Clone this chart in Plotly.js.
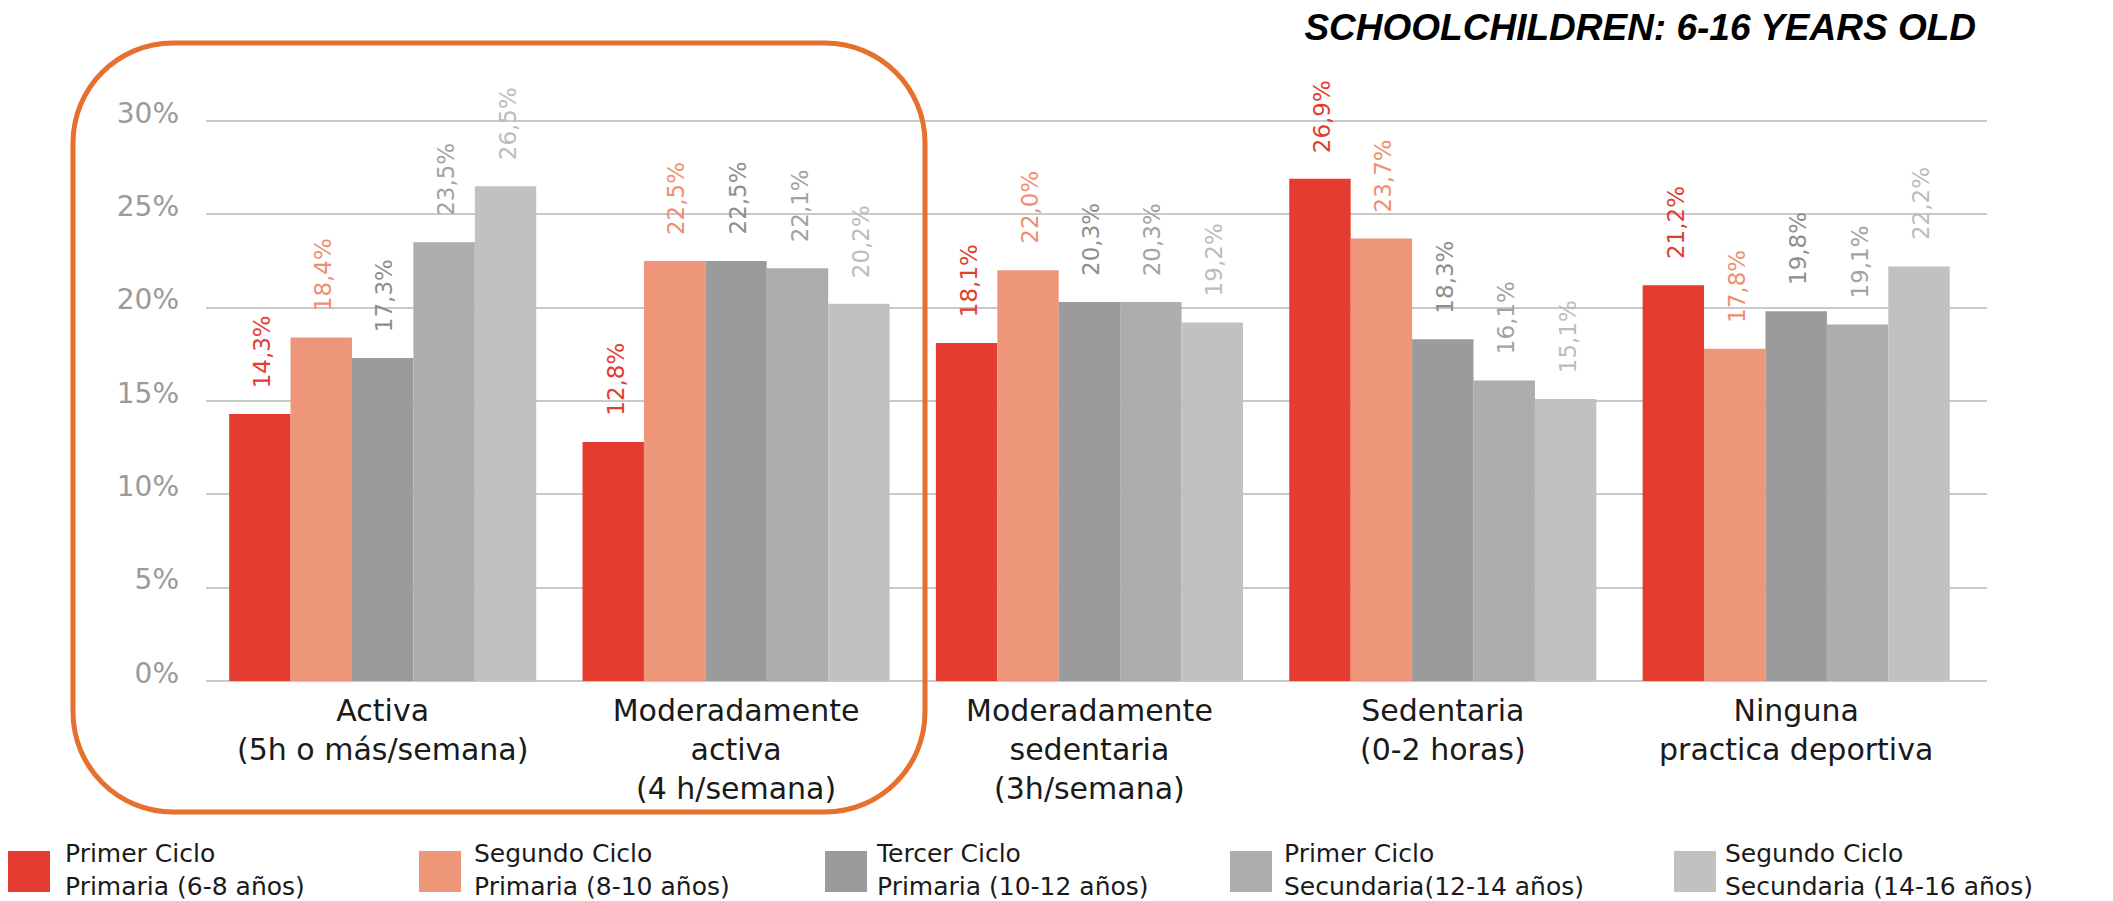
<!DOCTYPE html>
<html>
<head>
<meta charset="utf-8">
<script src="https://cdn.plot.ly/plotly-3.0.1.min.js"></script>
<style>
  html, body { margin: 0; padding: 0; background: #ffffff; }
  #chart { width: 2113px; height: 901px; }
</style>
</head>
<body>
<div id="chart"></div>
<script>
// ---------------- DATA ----------------
const categories = [
  "Activa<br>(5h o más/semana)",
  "Moderadamente<br>activa<br>(4 h/semana)",
  "Moderadamente<br>sedentaria<br>(3h/semana)",
  "Sedentaria<br>(0-2 horas)",
  "Ninguna<br>practica deportiva"
];
const seriesNames = [
  "Primer Ciclo<br>Primaria (6-8 años)",
  "Segundo Ciclo<br>Primaria (8-10 años)",
  "Tercer Ciclo<br>Primaria (10-12 años)",
  "Primer Ciclo<br>Secundaria(12-14 años)",
  "Segundo Ciclo<br>Secundaria (14-16 años)"
];
const primerCicloPrimaria     = [14.3, 12.8, 18.1, 26.9, 21.2];
const segundoCicloPrimaria    = [18.4, 22.5, 22.0, 23.7, 17.8];
const tercerCicloPrimaria     = [17.3, 22.5, 20.3, 18.3, 19.8];
const primerCicloSecundaria   = [23.5, 22.1, 20.3, 16.1, 19.1];
const segundoCicloSecundaria  = [26.5, 20.2, 19.2, 15.1, 22.2];
const yTickValues = [0, 5, 10, 15, 20, 25, 30];
const yTickLabels = ["0%", "5%", "10%", "15%", "20%", "25%", "30%"];
const chartTitle = "SCHOOLCHILDREN: 6-16 YEARS OLD";

// ---------------- STYLE ----------------
const barColors   = ["#e43c30", "#ed967a", "#9b9b9b", "#adadad", "#c1c1c1"];
const labelColors = ["#e43c30", "#ee8f72", "#8e8e8e", "#a2a2a2", "#bcbcbc"];
const FONT = "DejaVu Sans, Lato, sans-serif";

const W = 2113, H = 901;
const M = { l: 206, r: 126, t: 119, b: 220 };
const plotW = W - M.l - M.r, plotH = H - M.t - M.b;
const xRange = [-0.5, 4.54];
const yRange = [0, 30.1];
const bargap = 0.131;
const barPx = plotW / (xRange[1] - xRange[0]) * (1 - bargap) / 5;

// pixel -> paper helpers
const px2x = p => (p - M.l) / plotW;
const px2y = p => (H - M.b - p) / plotH;

const allSeries = [primerCicloPrimaria, segundoCicloPrimaria, tercerCicloPrimaria,
                   primerCicloSecundaria, segundoCicloSecundaria];

const traces = allSeries.map((vals, i) => ({
  type: "bar",
  name: seriesNames[i].replace("<br>", " "),
  x: categories,
  y: vals,
  marker: { color: barColors[i], line: { width: 0 } },
  hoverinfo: "x+y+name",
  showlegend: false
}));

const annotations = [];
// value labels
allSeries.forEach((vals, i) => {
  vals.forEach((v, j) => {
    annotations.push({
      x: categories[j], y: v, xref: "x", yref: "y",
      xshift: (i - 2) * barPx + 2, yshift: 24,
      text: v.toFixed(1).replace(".", ",") + "%",
      textangle: -90, showarrow: false,
      xanchor: "center", yanchor: "bottom",
      font: { family: FONT, size: 23, color: labelColors[i] }
    });
  });
});

// custom legend (large squares + two-line labels)
const legendSquareX = [8, 419, 825, 1230, 1674];
const legendTextX   = [64, 473, 875, 1283, 1724];
const shapes = [];
seriesNames.forEach((name, i) => {
  shapes.push({
    type: "rect", xref: "paper", yref: "paper",
    x0: px2x(legendSquareX[i]), x1: px2x(legendSquareX[i] + 42),
    y0: px2y(851), y1: px2y(892),
    fillcolor: barColors[i], line: { width: 0 }
  });
  annotations.push({
    xref: "paper", yref: "paper",
    x: px2x(legendTextX[i]), y: px2y(870),
    xanchor: "left", yanchor: "middle", align: "left",
    text: name, showarrow: false, borderpad: 0,
    font: { family: FONT, size: 25, color: "#1a1a1a" }
  });
});

// rounded orange frame
(function () {
  const x0 = 73, x1 = 925, y0 = 43, y1 = 812, r = 100, k = 0.5523 * r;
  const P = (a, b) => px2x(a) + "," + px2y(b);
  const path =
    "M" + P(x0 + r, y0) +
    " L" + P(x1 - r, y0) +
    " C" + P(x1 - r + k, y0) + " " + P(x1, y0 + r - k) + " " + P(x1, y0 + r) +
    " L" + P(x1, y1 - r) +
    " C" + P(x1, y1 - r + k) + " " + P(x1 - r + k, y1) + " " + P(x1 - r, y1) +
    " L" + P(x0 + r, y1) +
    " C" + P(x0 + r - k, y1) + " " + P(x0, y1 - r + k) + " " + P(x0, y1 - r) +
    " L" + P(x0, y0 + r) +
    " C" + P(x0, y0 + r - k) + " " + P(x0 + r - k, y0) + " " + P(x0 + r, y0) + " Z";
  shapes.push({
    type: "path", xref: "paper", yref: "paper", path: path,
    line: { color: "#e8702e", width: 5 }, fillcolor: "rgba(0,0,0,0)", layer: "above"
  });
})();

const layout = {
  width: W, height: H,
  margin: M,
  paper_bgcolor: "#ffffff",
  plot_bgcolor: "#ffffff",
  barmode: "group",
  bargap: bargap,
  bargroupgap: 0,
  showlegend: false,
  title: {
    text: chartTitle,
    xref: "container", yref: "container",
    x: 1976 / W, xanchor: "right",
    y: 1 - 27 / H, yanchor: "middle",
    font: { family: "Liberation Sans, Arial, sans-serif", size: 37, weight: "bold", style: "italic", color: "#000000" }
  },
  xaxis: {
    type: "category",
    range: xRange,
    showgrid: false,
    showline: false,
    zeroline: false,
    ticks: "",
    ticklabelstandoff: 9,
    tickfont: { family: FONT, size: 30, color: "#1a1a1a" },
    fixedrange: true
  },
  yaxis: {
    range: yRange,
    tickmode: "array",
    tickvals: yTickValues,
    ticktext: yTickLabels,
    showgrid: true,
    gridcolor: "#c9c9c9",
    gridwidth: 2,
    zeroline: true,
    zerolinecolor: "#c9c9c9",
    zerolinewidth: 2,
    showline: false,
    ticks: "",
    ticklabelstandoff: 26,
    ticklabelshift: -8,
    tickfont: { family: FONT, size: 28, color: "#9a9a9a" },
    fixedrange: true
  },
  shapes: shapes,
  annotations: annotations
};

Plotly.newPlot("chart", traces, layout, { displayModeBar: false, staticPlot: true });
</script>
</body>
</html>
